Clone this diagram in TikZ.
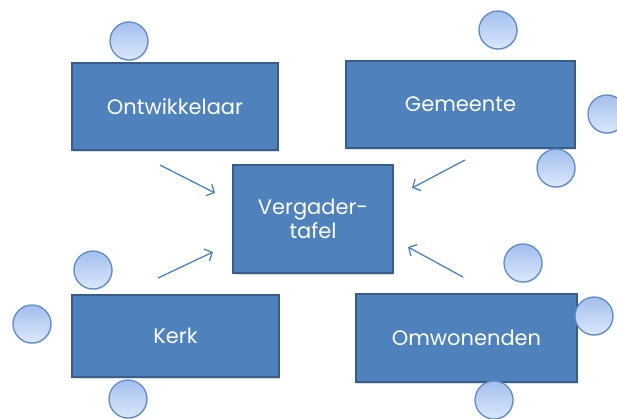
\documentclass[tikz,border=0pt]{standalone}
\usepackage{fontspec}
\setmainfont{Poppins}
\usetikzlibrary{arrows.meta,shadows}
\definecolor{boxfill}{HTML}{4F81BD}
\definecolor{boxline}{HTML}{385D8A}
\definecolor{circtop}{HTML}{A3BFEE}
\definecolor{circbot}{HTML}{DCE7FB}
\definecolor{circline}{HTML}{5F8BC6}
\tikzset{
  actor/.style={draw=boxline, line width=2.4pt, fill=boxfill, inner sep=0pt,
    text=white, font=\fontsize{21}{25}\selectfont,
    drop shadow={shadow xshift=1pt, shadow yshift=-1.5pt, opacity=0.25}},
  seat/.style={circle, draw=circline, line width=1.3pt, minimum size=38pt, inner sep=0pt,
    top color=circtop, bottom color=circbot,
    drop shadow={shadow xshift=0.8pt, shadow yshift=-1.2pt, opacity=0.2}},
  link/.style={draw=boxfill, line width=1.3pt, -{Straight Barb[length=6pt,width=13pt]}}
}
\begin{document}
\begin{tikzpicture}[x=1pt,y=-1pt]
\useasboundingbox (0,0) rectangle (617,418);
% boxes
\node[actor, minimum width=206pt, minimum height=87pt] (ont) at (175,106.5) {Ontwikkelaar};
\node[actor, minimum width=229pt, minimum height=87pt] (gem) at (460.5,104.5) {Gemeente};
\node[actor, minimum width=160pt, minimum height=108pt, align=center] (tafel) at (313,219) {Vergader-\\[-1pt]tafel};
\node[actor, minimum width=207pt, minimum height=82pt] (kerk) at (175.5,336) {Kerk};
\node[actor, minimum width=221pt, minimum height=88pt] (omw) at (466.5,338) {Omwonenden};
% seats
\node[seat] (s1) at (129,41) {};
\node[seat] (s2) at (498,30) {};
\node[seat] (s3) at (607,114) {};
\node[seat] (s4) at (556,168) {};
\node[seat] (s5) at (93,270) {};
\node[seat] (s6) at (32,324) {};
\node[seat] (s7) at (128,399) {};
\node[seat] (s8) at (523,263) {};
\node[seat] (s9) at (594,316) {};
\node[seat] (s10) at (494,400) {};
% arrows
\coordinate (a1) at (160,165);
\coordinate (a2) at (465,160);
\coordinate (a3) at (158,278);
\coordinate (a4) at (463,277);
\coordinate (b1) at (215,193);
\coordinate (b2) at (412,188);
\coordinate (b3) at (213,252);
\coordinate (b4) at (408,247);
\draw[link] (a1) -- (b1);
\draw[link] (a2) -- (b2);
\draw[link] (a3) -- (b3);
\draw[link] (a4) -- (b4);
\end{tikzpicture}
\end{document}
